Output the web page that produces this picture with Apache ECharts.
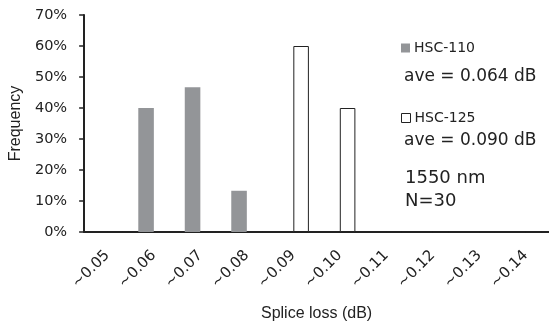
<!DOCTYPE html>
<html>
<head>
<meta charset="utf-8">
<script src="https://cdn.jsdelivr.net/npm/echarts@6/dist/echarts.min.js"></script>
<style>
  html, body { margin: 0; padding: 0; background: #fff; }
  #chart { width: 549px; height: 327px; }
</style>
</head>
<body>
<div id="chart"></div>
<script>
// Splice-loss bins
const categories = ['~0.05', '~0.06', '~0.07', '~0.08', '~0.09', '~0.10', '~0.11', '~0.12', '~0.13', '~0.14'];
// Frequency in percent, N = 30 splices per fibre type
const hsc110 = [0, 40, 46.7, 13.3, 0, 0, 0, 0, 0, 0];
const hsc125 = [0, 0, 0, 0, 60, 40, 0, 0, 0, 0];
const yTicks = { min: 0, max: 70, interval: 10 };

const verdana = 'DejaVu Sans, Verdana, sans-serif';
const arial = 'Liberation Sans, Arial, sans-serif';
const ink = '#222';

const chart = echarts.init(document.getElementById('chart'), null, { renderer: 'canvas' });
chart.setOption({
  animation: false,
  backgroundColor: '#ffffff',
  grid: { left: 83, top: 15, right: 0, bottom: 94, containLabel: false },
  legend: [
    {
      data: [{ name: 'HSC-110', icon: 'rect' }],
      left: 396, top: 36, itemWidth: 9, itemHeight: 9, itemGap: 4,
      textStyle: { fontFamily: verdana, fontSize: 14, color: ink, padding: [0, 0, 0, -1] }
    },
    {
      data: [{ name: 'HSC-125', icon: 'rect', itemStyle: { borderWidth: 1, borderColor: ink, color: '#fff' } }],
      left: 396, top: 106, itemWidth: 9, itemHeight: 9, itemGap: 4,
      textStyle: { fontFamily: verdana, fontSize: 14, color: ink, padding: [0, 0, 0, -1] }
    }
  ],
  xAxis: {
    type: 'category',
    data: categories,
    name: 'Splice loss (dB)',
    nameLocation: 'middle',
    nameGap: 74,
    nameTextStyle: { fontFamily: arial, fontSize: 16, color: ink },
    axisLine: { lineStyle: { color: ink, width: 2 } },
    axisTick: { inside: true, length: 5, lineStyle: { color: ink, width: 1.5 } },
    axisLabel: { rotate: 45, margin: 21, fontFamily: verdana, fontSize: 15, color: ink, interval: 0 },
    splitLine: { show: false }
  },
  yAxis: {
    type: 'value',
    min: yTicks.min, max: yTicks.max, interval: yTicks.interval,
    name: 'Frequency',
    nameLocation: 'middle',
    nameGap: 58,
    nameRotate: 90,
    nameTextStyle: { fontFamily: arial, fontSize: 16, color: ink },
    axisLine: { show: true, lineStyle: { color: ink, width: 2 } },
    axisTick: { show: true, length: 5, lineStyle: { color: ink, width: 1.5 } },
    axisLabel: { formatter: '{value}%', margin: 17, fontFamily: verdana, fontSize: 14.5, color: ink },
    splitLine: { show: false }
  },
  series: [
    {
      name: 'HSC-110', type: 'bar', data: hsc110,
      barGap: '0%', barCategoryGap: '33%',
      itemStyle: { color: '#939598' }
    },
    {
      name: 'HSC-125', type: 'bar', data: hsc125,
      itemStyle: { color: '#ffffff', borderColor: ink, borderWidth: 1 }
    }
  ],
  graphic: [
    { type: 'text', left: 404, top: 68, style: { text: 'ave = 0.064 dB', font: '17px ' + verdana, fill: ink } },
    { type: 'text', left: 404, top: 132, style: { text: 'ave = 0.090 dB', font: '17px ' + verdana, fill: ink } },
    { type: 'text', left: 405, top: 169, style: { text: '1550 nm', font: '18px ' + verdana, fill: ink } },
    { type: 'text', left: 405, top: 192, style: { text: 'N=30', font: '18px ' + verdana, fill: ink } }
  ]
});
</script>
</body>
</html>
